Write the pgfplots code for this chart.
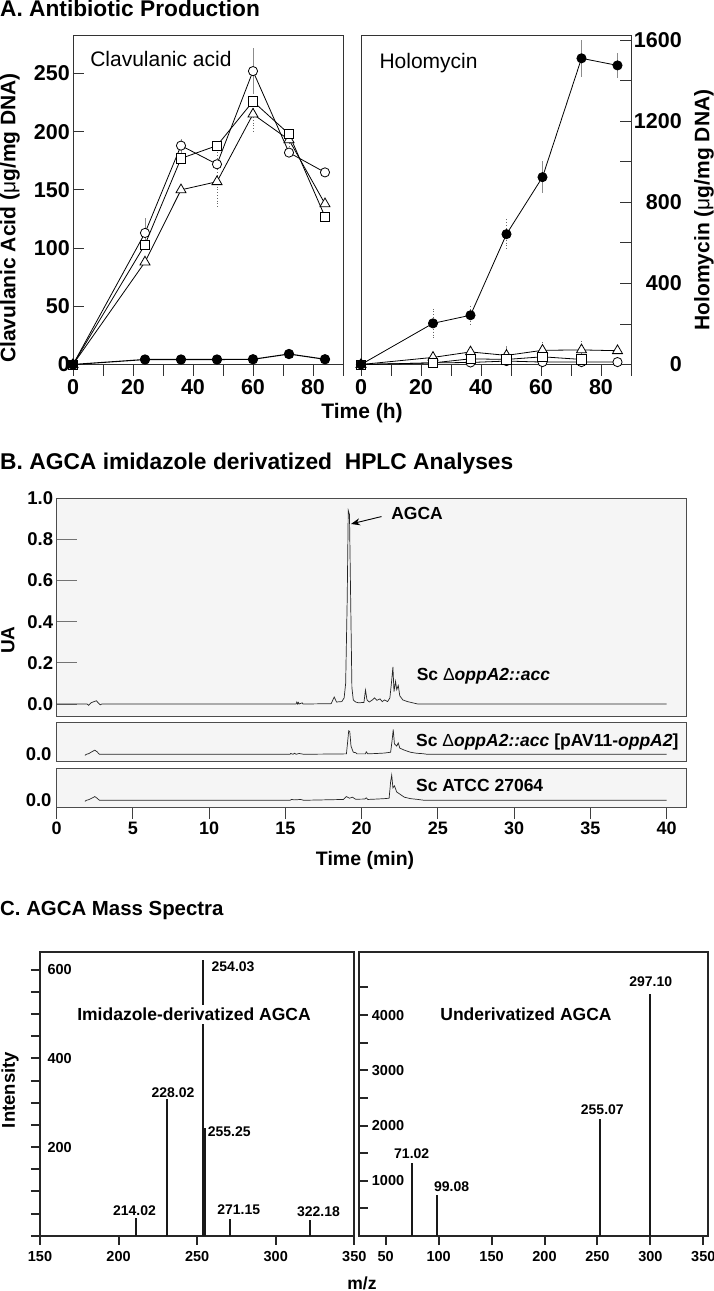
\documentclass[border=0pt]{standalone}
\usepackage{fontspec}
\setmainfont{Liberation Sans}
\usepackage{pgfplots}
\pgfplotsset{compat=1.18}
\usetikzlibrary{arrows.meta}
\newcommand{\fs}[1]{\fontsize{#1}{#1}\selectfont}
\tikzset{pl/.style={font=\fs{14}\bfseries, inner sep=0pt}}
\begin{document}
\begin{tikzpicture}
\useasboundingbox (0pt,0pt) rectangle (714pt,-1291pt);
% panel titles
\node[anchor=base west, inner sep=0pt, font=\fs{22.7}\bfseries] at (0pt,-16.7pt) {A. Antibiotic Production};
\node[anchor=base west, inner sep=0pt, font=\fs{22.8}\bfseries] at (0pt,-469.3pt) {B. AGCA imidazole derivatized\ \ HPLC Analyses};
\node[anchor=base west, inner sep=0pt, font=\fs{20.4}\bfseries] at (0pt,-915pt) {C. AGCA Mass Spectra};

\pgfplotsset{
  panelA/.style={
    anchor=south west, scale only axis, width=270pt, height=329.5pt,
    xmin=0, xmax=90,
    xtick={0,20,40,60,80}, minor xtick={10,30,50,70,90},
    xtick pos=bottom, xtick align=outside,
    major tick length=11pt, minor tick length=11pt,
    axis line style={black!80, line width=0.8pt},
    tick style={black!80, line width=0.8pt},
    ticklabel style={font=\fs{21.5}\bfseries},
    /pgf/number format/assume math mode=true,
    /pgf/number format/1000 sep={},
    clip=false,
  },
  errs/.style={draw=none, mark=none, forget plot,
    error bars/.cd, y dir=both, y explicit, error mark=none,
    error bar style={draw=black!45, line width=0.8pt, #1}},
  ln/.style={black, line width=0.8pt},
  oc/.style={ln, mark=*, mark size=4.6pt, mark options={fill=white, draw=black, line width=0.8pt}},
  sq/.style={ln, mark=square*, mark size=4.6pt, mark options={fill=white, draw=black, line width=0.8pt}},
  tr/.style={ln, mark=triangle*, mark size=5.8pt, mark options={fill=white, draw=black, line width=0.8pt}},
  fc/.style={ln, mark=*, mark size=4.6pt, mark options={fill=black, draw=black}},
}

% ---------- Panel A left: clavulanic acid
\begin{axis}[panelA, at={(73pt,-364.5pt)},
  ymin=0, ymax=283, ytick={0,50,100,150,200,250},
  ytick pos=left, ytick align=inside,
  yticklabel style={inner sep=0pt, xshift=-3pt}]
\addplot[errs={solid}] coordinates {(24,113) +- (0,13) (36,188) +- (0,6) (60,252) +- (0,20)};
\addplot[errs={dotted, draw=black!60}] coordinates {(48,160) +- (0,26) (60,215) +- (0,15) (72,190) +- (0,6)};
\addplot[tr] coordinates {(0,0) (24,88) (36,150) (48,157) (60,215) (72,193) (84,138)};
\addplot[sq] coordinates {(0,0) (24,103) (36,177) (48,188) (60,226) (72,198) (84,127)};
\addplot[oc] coordinates {(0,0) (24,113) (36,188) (48,172) (60,252) (72,182) (84,165)};
\addplot[fc, line width=1.1pt] coordinates {(0,0) (24,4.3) (36,4.3) (48,4.3) (60,4.5) (72,9) (84,4.5)};
\node[anchor=base west, inner sep=0pt, font=\fs{21}] at (axis cs:5.7,255.6) {Clavulanic acid};
\node[rotate=90, anchor=center, font=\fs{21}\bfseries] at (axis description cs:-0.2333,0.4446) {Clavulanic Acid ({\mdseries μ}g/mg DNA)};
\node[anchor=center, font=\fs{21}\bfseries] at (axis description cs:1.0704,-0.147) {Time (h)};
\end{axis}

% ---------- Panel A right: holomycin
\begin{axis}[panelA, at={(361pt,-364.5pt)},
  ymin=0, ymax=1625, ytick={0,400,800,1200,1600}, minor ytick={200,600,1000,1400},
  ytick pos=right, ytick align=inside,
  yticklabel style={anchor=east, inner sep=0pt, xshift=51pt}]
\addplot[errs={dotted, draw=black!60}] coordinates {(24,203) +- (0,70) (36.5,243) +- (0,45) (48.5,643) +- (0,75) (36.5,75) +- (0,25) (60.5,80) +- (0,40) (73.5,85) +- (0,40)};
\addplot[errs={solid}] coordinates {(60.5,924) +- (0,80) (73.5,1510) +- (0,90) (85.5,1475) +- (0,60) (48.5,55) +- (0,35)};
\addplot[tr] coordinates {(0,0) (24,35) (36.5,62) (48.5,45) (60.5,70) (73.5,72) (85.5,68)};
\addplot[oc] coordinates {(0,0) (24,8) (36.5,10) (48.5,17) (60.5,12) (73.5,12) (85.5,12)};
\addplot[sq] coordinates {(0,0) (24,8) (36.5,28) (48.5,25) (60.5,38) (73.5,25)};
\addplot[fc] coordinates {(0,0) (24,203) (36.5,243) (48.5,643) (60.5,924) (73.5,1510) (85.5,1475)};
\node[anchor=base west, inner sep=0pt, font=\fs{21}] at (axis cs:6.1,1460) {Holomycin};
\node[rotate=90, anchor=center, font=\fs{21}\bfseries] at (axis description cs:1.2704,0.469) {Holomycin ({\mdseries μ}g/mg DNA)};
\end{axis}

% ---------- Panel B
\pgfplotsset{
  panelB/.style={
    anchor=south west, scale only axis, width=629.3pt,
    xmin=0, xmax=41.27,
    axis line style={black!70, line width=1pt},
    axis background/.style={fill=black!4},
    clip=false,
  },
  trace/.style={black!85, line width=0.7pt},
}
\begin{axis}[panelB, at={(56.7pt,-716pt)}, height=218pt,
  ymin=-0.058, ymax=1.0, xtick=\empty,
  ytick={0,0.2,0.4,0.6,0.8,1.0}, ytick pos=left, ytick align=inside,
  major tick length=20pt, tick style={black!55, line width=0.9pt},
  yticklabel style={font=\fs{18.5}\bfseries, /pgf/number format/.cd, fixed, fixed zerofill, precision=1, assume math mode=true}]
\addplot[trace] coordinates {(0,0) (2.0,0) (2.1,-0.006) (2.25,0.006) (2.45,0.012) (2.6,0.016) (2.75,0.004) (2.85,-0.004) (2.95,0) (15.7,0) (15.75,0.01) (15.8,0) (15.85,0.008) (15.9,0) (16.1,0.006) (16.15,0) (18.0,0.002) (18.2,0.034) (18.35,0.01) (18.7,0.012) (18.85,0.03) (18.95,0.1) (19.05,0.5) (19.12,0.94) (19.2,0.92) (19.28,0.5) (19.36,0.08) (19.45,0.02) (19.6,0.01) (19.8,0.006) (20.15,0.008) (20.25,0.068) (20.35,0.02) (20.5,0.01) (20.7,0.02) (20.85,0.03) (21.0,0.018) (21.2,0.025) (21.35,0.012) (21.5,0.02) (21.7,0.012) (21.85,0.03) (21.95,0.1) (22.05,0.18) (22.12,0.06) (22.22,0.11) (22.3,0.07) (22.4,0.09) (22.5,0.04) (22.7,0.02) (23.0,0.012) (23.4,0.005) (23.7,0) (40,0)};
\node[anchor=base west, inner sep=0pt, font=\fs{17.5}\bfseries] at (axis cs:21.93,0.897) {AGCA};
\draw[black, line width=0.9pt, -{Stealth[length=9pt, width=7pt]}] (axis cs:21.3,0.91) -- (axis cs:19.3,0.874);
\node[anchor=base west, inner sep=0pt, font=\fs{17.5}\bfseries] at (axis cs:23.6,0.1165) {Sc {\mdseries Δ}\textit{oppA2::acc}};
\node[rotate=90, anchor=center, font=\fs{19}\bfseries] at (axis description cs:-0.0774,0.3486) {UA};
\end{axis}

\begin{axis}[panelB, at={(56.7pt,-761.7pt)}, height=39.4pt,
  ymin=-0.036, ymax=0.155, xtick=\empty, ytick=\empty]
\addplot[trace] coordinates {(1.85,-0.005) (1.95,0) (2.1,0.003) (2.3,0.012) (2.5,0.02) (2.65,0.012) (2.8,0) (15.3,0) (15.35,0.004) (15.5,0) (15.6,0.005) (15.7,0) (15.9,0.004) (16.2,0) (19.0,0.002) (19.08,0.06) (19.15,0.114) (19.22,0.11) (19.3,0.04) (19.45,0.01) (19.6,0.008) (19.7,0.002) (20.25,0.002) (20.3,0.012) (20.4,0.002) (21.0,0.004) (21.5,0.006) (21.9,0.01) (22.0,0.07) (22.07,0.12) (22.15,0.05) (22.3,0.04) (22.4,0.055) (22.5,0.03) (22.8,0.02) (23.2,0.01) (23.6,0.005) (24.0,0.003) (24.3,0) (40,0)};
\node[anchor=east, inner sep=0pt, font=\fs{18.5}\bfseries] at ([xshift=-5pt]axis cs:0,0) {0.0};
\node[anchor=base west, inner sep=0pt, font=\fs{17.5}\bfseries] at (axis cs:23.56,0.037) {Sc {\mdseries Δ}\textit{oppA2::acc} [pAV11-\textit{oppA2}]};
\end{axis}

\begin{axis}[panelB, at={(56.7pt,-807.7pt)}, height=39.4pt,
  ymin=-0.036, ymax=0.155, ytick=\empty,
  xtick={0,5,...,40}, xtick pos=bottom, xtick align=outside,
  major tick length=11pt, tick style={black!75, line width=1pt},
  typeset ticklabels with strut,
  xticklabel style={font=\fs{18}\bfseries}, /pgf/number format/assume math mode=true]
\addplot[trace] coordinates {(1.85,-0.005) (1.95,0) (2.1,0.003) (2.3,0.01) (2.5,0.018) (2.65,0.01) (2.8,0) (15.3,0) (15.4,0.004) (15.6,0.002) (16.0,0.004) (16.2,0) (18.8,0.004) (19.0,0.018) (19.2,0.01) (19.4,0.015) (19.6,0.005) (20.2,0.006) (20.3,0.012) (20.4,0.004) (21.0,0.006) (21.5,0.008) (21.8,0.01) (21.9,0.09) (21.97,0.122) (22.05,0.06) (22.15,0.07) (22.3,0.04) (22.5,0.03) (22.8,0.015) (23.2,0.008) (23.7,0.004) (24.1,0) (40,0)};
\node[anchor=east, inner sep=0pt, font=\fs{18.5}\bfseries] at ([xshift=-5pt]axis cs:0,0) {0.0};
\node[anchor=base west, inner sep=0pt, font=\fs{17.5}\bfseries] at (axis cs:23.56,0.042) {Sc ATCC 27064};
\node[anchor=center, font=\fs{19.5}\bfseries] at (axis description cs:0.49,-1.33) {Time (min)};
\end{axis}

% ---------- Panel C
\pgfplotsset{
  panelC/.style={
    anchor=south west, scale only axis,
    xtick pos=bottom, ytick pos=left, xtick align=outside,
    major tick length=9pt, minor tick length=9pt,
    axis line style={black!85, line width=2.2pt},
    tick style={black!85, line width=2pt},
    ticklabel style={font=\fs{14.5}\bfseries},
    xticklabel style={yshift=-3pt},
    /pgf/number format/assume math mode=true,
    /pgf/number format/1000 sep={},
    clip=false,
  },
  pk/.style={ycomb, black!90, line width=2pt, mark=none},
}
\begin{axis}[panelC, at={(40pt,-1235.7pt)}, width=314.3pt, height=283.4pt,
  xmin=150, xmax=350, ymin=0, ymax=639.3,
  xtick={150,200,250,300,350},
  ytick={200,400,600}, minor ytick={0,50,100,150,250,300,350,450,500,550,600},
  ytick align=outside,
  yticklabel style={anchor=west, xshift=13pt}]
\addplot[pk] coordinates {(211.2,39) (230.8,308) (253.8,622) (270.8,38) (321.9,35)};
\addplot[pk, line width=3pt] coordinates {(254.8,244)};
\node[anchor=base, fill=white, inner sep=3pt, font=\fs{17.5}\bfseries] at (axis cs:248,485) {Imidazole-derivatized AGCA};
\node[pl, anchor=base west] at (axis cs:259.1,595.5) {254.03};
\node[pl, anchor=base] at (axis cs:234.6,312.8) {228.02};
\node[pl, anchor=base] at (axis cs:270.4,223.3) {255.25};
\node[pl, anchor=base] at (axis cs:210.1,46.7) {214.02};
\node[pl, anchor=base] at (axis cs:276.5,48.3) {271.15};
\node[pl, anchor=base] at (axis cs:327.2,44.4) {322.18};
\node[rotate=90, anchor=center, font=\fs{18.5}\bfseries] at (axis description cs:-0.0954,0.514) {Intensity};
\node[anchor=center, font=\fs{17.5}\bfseries] at (axis description cs:1.0245,-0.167) {m/z};
\end{axis}

\begin{axis}[panelC, at={(359pt,-1236pt)}, width=349.3pt, height=283.7pt,
  xmin=24.8, xmax=354.7, ymin=0, ymax=5135,
  xtick={50,100,...,350},
  ytick={1000,2000,3000,4000}, minor ytick={500,1500,2500,3500,4500},
  ytick align=inside,
  yticklabel style={anchor=west, inner sep=0pt, xshift=12.7pt}]
\addplot[pk] coordinates {(74.6,1316) (98.2,742) (252.4,2118) (299.7,4375)};
\node[anchor=base, inner sep=0pt, font=\fs{17.5}\bfseries] at (axis cs:182.5,3899) {Underivatized AGCA};
\node[pl, anchor=base] at (axis cs:300.3,4511) {297.10};
\node[pl, anchor=base] at (axis cs:254.6,2208) {255.07};
\node[pl, anchor=base] at (axis cs:74.6,1406) {71.02};
\node[pl, anchor=base] at (axis cs:112.3,814) {99.08};
\end{axis}
\end{tikzpicture}
\end{document}
